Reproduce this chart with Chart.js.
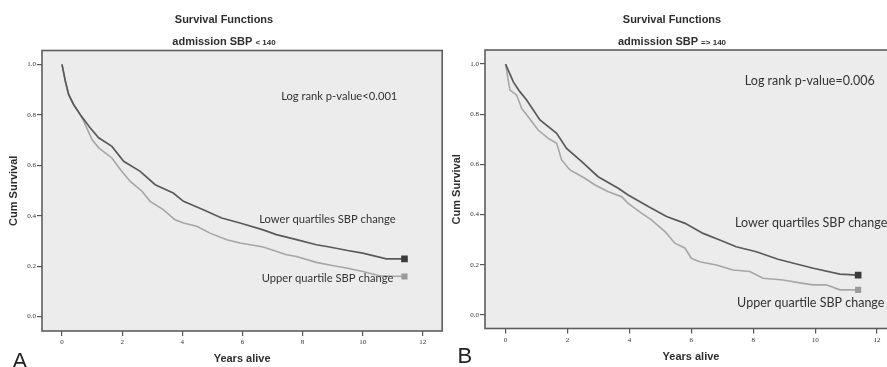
<!DOCTYPE html>
<html>
<head>
<meta charset="utf-8">
<script src="https://cdn.jsdelivr.net/npm/chart.js@4.4.1/dist/chart.umd.min.js"></script>
<style>
  html, body { margin:0; padding:0; background:#fff; }
  #wrap { position:relative; width:887px; height:367px; overflow:hidden; background:#fff; }
  .pane { position:absolute; top:0; }
</style>
</head>
<body>
<div id="wrap">
  <div class="pane" style="left:0;width:443px;height:367px"><canvas id="chartA" width="443" height="367"></canvas></div>
  <div class="pane" style="left:443px;width:460px;height:367px"><canvas id="chartB" width="460" height="367"></canvas></div>
</div>
<script>
// ---------- data ----------
const xTickValues = [0, 2, 4, 6, 8, 10, 12];
const xTickLabels = ['0', '2', '4', '6', '8', '10', '12'];
const yTickValues = [0, 0.2, 0.4, 0.6, 0.8, 1.0];
const yTickLabels = ['0.0', '0.2', '0.4', '0.6', '0.8', '1.0'];

// Panel A: admission SBP < 140
const aLowerYears = [0, 0.11, 0.22, 0.385, 0.61, 0.94, 1.22, 1.66, 2.05, 2.6, 3.1, 3.7, 4.04, 4.7, 5.31, 5.92, 6.69, 7.13, 7.8, 8.46, 8.9, 9.5, 10.0, 10.79, 11.39];
const aLowerSurv  = [1.0, 0.934, 0.881, 0.841, 0.80, 0.748, 0.709, 0.675, 0.616, 0.576, 0.523, 0.49, 0.457, 0.424, 0.391, 0.371, 0.344, 0.325, 0.305, 0.285, 0.276, 0.262, 0.252, 0.229, 0.229];
const aUpperYears = [0, 0.11, 0.22, 0.385, 0.61, 0.72, 1.0, 1.22, 1.66, 1.94, 2.27, 2.66, 2.93, 3.37, 3.76, 4.04, 4.48, 4.92, 5.48, 5.92, 6.69, 7.47, 7.8, 8.46, 8.9, 9.5, 10.0, 10.56, 11.39];
const aUpperSurv  = [1.0, 0.934, 0.881, 0.841, 0.80, 0.775, 0.702, 0.669, 0.629, 0.583, 0.536, 0.497, 0.457, 0.424, 0.384, 0.371, 0.358, 0.331, 0.305, 0.292, 0.276, 0.245, 0.238, 0.215, 0.205, 0.192, 0.179, 0.162, 0.159];

// Panel B: admission SBP => 140
const bLowerYears = [0, 0.25, 0.46, 0.68, 1.11, 1.65, 1.97, 2.46, 2.99, 3.64, 3.96, 4.61, 5.2, 5.8, 6.38, 6.92, 7.45, 8.1, 8.8, 9.94, 10.8, 11.39];
const bLowerSurv  = [1.0, 0.929, 0.890, 0.857, 0.777, 0.724, 0.664, 0.611, 0.551, 0.505, 0.478, 0.432, 0.392, 0.365, 0.325, 0.299, 0.272, 0.252, 0.222, 0.186, 0.163, 0.159];
const bUpperYears = [0, 0.14, 0.36, 0.52, 0.73, 1.05, 1.38, 1.65, 1.81, 2.08, 2.56, 2.89, 3.32, 3.75, 3.96, 4.4, 4.72, 5.15, 5.47, 5.8, 6.0, 6.27, 6.81, 7.35, 7.89, 8.32, 8.96, 9.61, 9.94, 10.36, 10.8, 11.39];
const bUpperSurv  = [1.0, 0.896, 0.876, 0.823, 0.79, 0.737, 0.704, 0.684, 0.618, 0.578, 0.545, 0.518, 0.491, 0.471, 0.445, 0.405, 0.378, 0.332, 0.286, 0.266, 0.226, 0.212, 0.199, 0.179, 0.173, 0.146, 0.139, 0.126, 0.12, 0.12, 0.10, 0.10];

const lowerLabel = 'Lower quartiles SBP change';
const upperLabel = 'Upper quartile SBP change';

// ---------- helpers ----------
function pts(xs, ys) { return xs.map((x, i) => ({ x: x, y: ys[i] })); }
function lastOnly(arr, r) { return arr.map((_, i) => i === arr.length - 1 ? r : 0); }

function makePanel(canvasId, cfg) {
  const panelPlugin = {
    id: 'panel_' + canvasId,
    beforeDraw(chart) {
      const { ctx, chartArea: a } = chart;
      ctx.save();
      ctx.fillStyle = '#ececec';
      ctx.fillRect(a.left, a.top, a.right - a.left, a.bottom - a.top);
      ctx.restore();
    },
    afterDraw(chart) {
      const { ctx, chartArea: a, scales } = chart;
      ctx.save();
      // frame
      ctx.strokeStyle = '#5e5e5e';
      ctx.lineWidth = 1.6;
      ctx.strokeRect(a.left, a.top, a.right - a.left, a.bottom - a.top);
      // titles
      ctx.fillStyle = '#2e2e2e';
      ctx.textBaseline = 'middle';
      ctx.textAlign = 'center';
      ctx.font = 'bold 11px "Liberation Sans", Arial, sans-serif';
      ctx.fillText('Survival Functions', cfg.titleX, 20);
      const main = 'admission SBP ';
      const w1 = ctx.measureText(main).width;
      ctx.font = 'bold 8px "Liberation Sans", Arial, sans-serif';
      const w2 = ctx.measureText(cfg.subSuffix).width;
      const sx = cfg.titleX - (w1 + w2) / 2;
      ctx.textAlign = 'left';
      ctx.font = 'bold 11px "Liberation Sans", Arial, sans-serif';
      ctx.fillText(main, sx, 42);
      ctx.font = 'bold 8px "Liberation Sans", Arial, sans-serif';
      ctx.fillText(cfg.subSuffix, sx + w1, 43);
      // axis titles
      ctx.font = 'bold 11px "Liberation Sans", Arial, sans-serif';
      ctx.textAlign = 'center';
      ctx.fillText('Years alive', (a.left + a.right) / 2, cfg.xTitleY);
      ctx.save();
      ctx.translate(cfg.yTitleX, (a.top + a.bottom) / 2);
      ctx.rotate(-Math.PI / 2);
      ctx.fillText('Cum Survival', 0, 0);
      ctx.restore();
      // panel letter
      ctx.font = '22px "Liberation Sans", Arial, sans-serif';
      ctx.textAlign = 'left';
      ctx.textBaseline = 'alphabetic';
      ctx.fillStyle = '#222';
      ctx.fillText(cfg.letter, cfg.letterX, cfg.letterY);
      // annotations (positioned in data space)
      ctx.fillStyle = '#333';
      ctx.textBaseline = 'middle';
      ctx.font = cfg.noteFont;
      cfg.notes.forEach(n => {
        ctx.fillText(n.text, scales.x.getPixelForValue(n.x), scales.y.getPixelForValue(n.y));
      });
      ctx.restore();
    }
  };

  const tickFont = { family: '"Liberation Serif", "Times New Roman", serif', size: 7 };
  return new Chart(document.getElementById(canvasId), {
    type: 'line',
    data: {
      datasets: [
        {
          label: lowerLabel,
          data: pts(cfg.lowerYears, cfg.lowerSurv),
          borderColor: '#5a5a5a',
          borderWidth: 1.7,
          pointRadius: lastOnly(cfg.lowerYears, 3.5),
          pointStyle: 'rect',
          pointBackgroundColor: '#3c3c3c',
          pointBorderColor: '#3c3c3c',
          tension: 0,
          fill: false
        },
        {
          label: upperLabel,
          data: pts(cfg.upperYears, cfg.upperSurv),
          borderColor: '#a6a6a6',
          borderWidth: 1.6,
          pointRadius: lastOnly(cfg.upperYears, 3.2),
          pointStyle: 'rect',
          pointBackgroundColor: '#9a9a9a',
          pointBorderColor: '#9a9a9a',
          tension: 0,
          fill: false
        }
      ]
    },
    options: {
      responsive: false,
      animation: false,
      devicePixelRatio: 1,
      layout: { autoPadding: false, padding: { left: 0, right: cfg.padRight, top: cfg.padTop, bottom: 0 } },
      plugins: { legend: { display: false }, tooltip: { enabled: false }, title: { display: false } },
      scales: {
        x: {
          type: 'linear',
          min: -0.665, max: 12.645,
          afterBuildTicks: s => { s.ticks = xTickValues.map(v => ({ value: v })); },
          afterFit: s => { s.height = cfg.xAxisHeight; s.paddingLeft = 0; s.paddingRight = 0; },
          border: { display: false },
          grid: { drawOnChartArea: false, drawTicks: true, tickLength: 5, tickColor: '#555', lineWidth: 1.2 },
          ticks: {
            autoSkip: false, maxRotation: 0, padding: 2, color: '#333', font: tickFont,
            callback: (v) => { const i = xTickValues.indexOf(v); return i >= 0 ? xTickLabels[i] : ''; }
          }
        },
        y: {
          type: 'linear',
          min: cfg.yMin, max: cfg.yMax,
          afterBuildTicks: s => { s.ticks = yTickValues.map(v => ({ value: v })); },
          afterFit: s => { s.width = cfg.yAxisWidth; s.paddingTop = 0; s.paddingBottom = 0; },
          border: { display: false },
          grid: { drawOnChartArea: false, drawTicks: true, tickLength: 5, tickColor: '#555', lineWidth: 1.2 },
          ticks: {
            autoSkip: false, padding: 1, color: '#333', font: tickFont,
            callback: (v) => { const i = yTickValues.findIndex(t => Math.abs(t - v) < 1e-9); return i >= 0 ? yTickLabels[i] : ''; }
          }
        }
      }
    },
    plugins: [panelPlugin]
  });
}

makePanel('chartA', {
  lowerYears: aLowerYears, lowerSurv: aLowerSurv,
  upperYears: aUpperYears, upperSurv: aUpperSurv,
  padTop: 50.5, padRight: 0.8, xAxisHeight: 36, yAxisWidth: 42,
  yMin: -0.057, yMax: 1.055,
  titleX: 224, subSuffix: '< 140',
  xTitleY: 359, yTitleX: 14,
  letter: 'A', letterX: 12.5, letterY: 368,
  noteFont: '11.2px Lato, "Open Sans", sans-serif',
  notes: [
    { text: 'Log rank p-value<0.001', x: 7.29, y: 0.873 },
    { text: lowerLabel, x: 6.56, y: 0.384 },
    { text: upperLabel, x: 6.64, y: 0.15 }
  ]
});

makePanel('chartB', {
  lowerYears: bLowerYears, lowerSurv: bLowerSurv,
  upperYears: bUpperYears, upperSurv: bUpperSurv,
  padTop: 50, padRight: 6, xAxisHeight: 38.5, yAxisWidth: 42,
  yMin: -0.054, yMax: 1.056,
  titleX: 229, subSuffix: '=> 140',
  xTitleY: 357, yTitleX: 14,
  letter: 'B', letterX: 14.5, letterY: 363,
  noteFont: '12.5px Lato, "Open Sans", sans-serif',
  notes: [
    { text: 'Log rank p-value=0.006', x: 7.73, y: 0.932 },
    { text: lowerLabel, x: 7.41, y: 0.367 },
    { text: upperLabel, x: 7.48, y: 0.048 }
  ]
});
</script>
</body>
</html>
